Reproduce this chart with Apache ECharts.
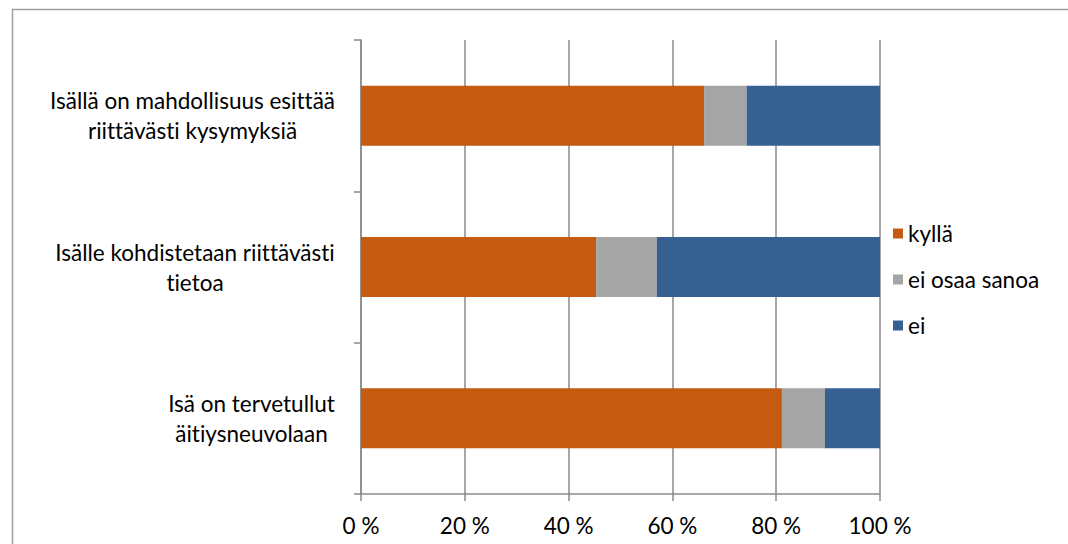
<!DOCTYPE html>
<html>
<head>
<meta charset="utf-8">
<script src="https://cdn.jsdelivr.net/npm/echarts@6/dist/echarts.min.js"></script>
<style>
html,body{margin:0;padding:0;background:#fff;}
#c{width:1068px;height:544px;}
#c text{font-variant-ligatures:none;font-feature-settings:"liga" 0, "clig" 0;}
</style>
</head>
<body>
<div id="c"></div>
<script>
var categories = [
  "Isällä on mahdollisuus esittää\nriittävästi kysymyksiä",
  "Isälle kohdistetaan riittävästi\ntietoa",
  "Isä on tervetullut\näitiysneuvolaan"
];
var seriesNames = ["kyllä", "ei osaa sanoa", "ei"];
var kylla = [66.1, 45.3, 81.1];
var eiOsaa = [8.2, 11.7, 8.3];
var ei = [25.7, 43.0, 10.6];

var FONT = 'Lato';
var FS = 22.5;
var ctx = document.createElement('canvas').getContext('2d');
ctx.font = FS + 'px ' + FONT;
var rich = {};
categories.forEach(function (c, i) {
  var w = 0;
  c.split('\n').forEach(function (l) { w = Math.max(w, ctx.measureText(l).width); });
  rich['c' + i] = { width: Math.ceil(w), align: 'center', fontSize: FS, fontFamily: FONT, lineHeight: 30, color: '#000' };
});

var chart = echarts.init(document.getElementById('c'), null, { renderer: 'svg' });
var gray = '#8a8a8a';
chart.setOption({
  animation: false,
  backgroundColor: '#fff',
  graphic: [{
    type: 'rect', left: 10, top: 7, shape: { width: 1100, height: 600 },
    style: { fill: 'none', stroke: '#a0a0a0', lineWidth: 1.5 }, silent: true, z: -1
  }],
  grid: { left: 361, right: 188, top: 40, bottom: 50 },
  legend: {
    orient: 'vertical', left: 888, top: 217,
    itemWidth: 10, itemHeight: 10, itemGap: 23,
    icon: 'rect',
    textStyle: { fontFamily: FONT, fontSize: FS, color: '#000' },
    data: seriesNames
  },
  xAxis: {
    type: 'value', min: 0, max: 100, interval: 20,
    axisLine: { show: true, lineStyle: { color: gray, width: 1.5 } },
    axisTick: { show: true, length: 7, lineStyle: { color: gray, width: 1.5 } },
    splitLine: { show: true, lineStyle: { color: gray, width: 1.5 } },
    axisLabel: { formatter: '{value} %', fontFamily: FONT, fontSize: FS, color: '#000', margin: 20 }
  },
  yAxis: {
    type: 'category', inverse: true, data: categories,
    axisLine: { show: true, lineStyle: { color: gray, width: 1.5 } },
    axisTick: { show: true, length: 7, lineStyle: { color: gray, width: 1.5 } },
    axisLabel: {
      margin: 26,
      formatter: function (v, i) {
        return v.split('\n').map(function (l) { return '{c' + i + '|' + l + '}'; }).join('\n');
      },
      rich: rich
    }
  },
  series: [
    { name: seriesNames[0], type: 'bar', stack: 't', data: kylla, barWidth: 60, itemStyle: { color: '#C55A11' } },
    { name: seriesNames[1], type: 'bar', stack: 't', data: eiOsaa, barWidth: 60, itemStyle: { color: '#A5A5A5' } },
    { name: seriesNames[2], type: 'bar', stack: 't', data: ei, barWidth: 60, itemStyle: { color: '#366092' } }
  ]
});
</script>
</body>
</html>
